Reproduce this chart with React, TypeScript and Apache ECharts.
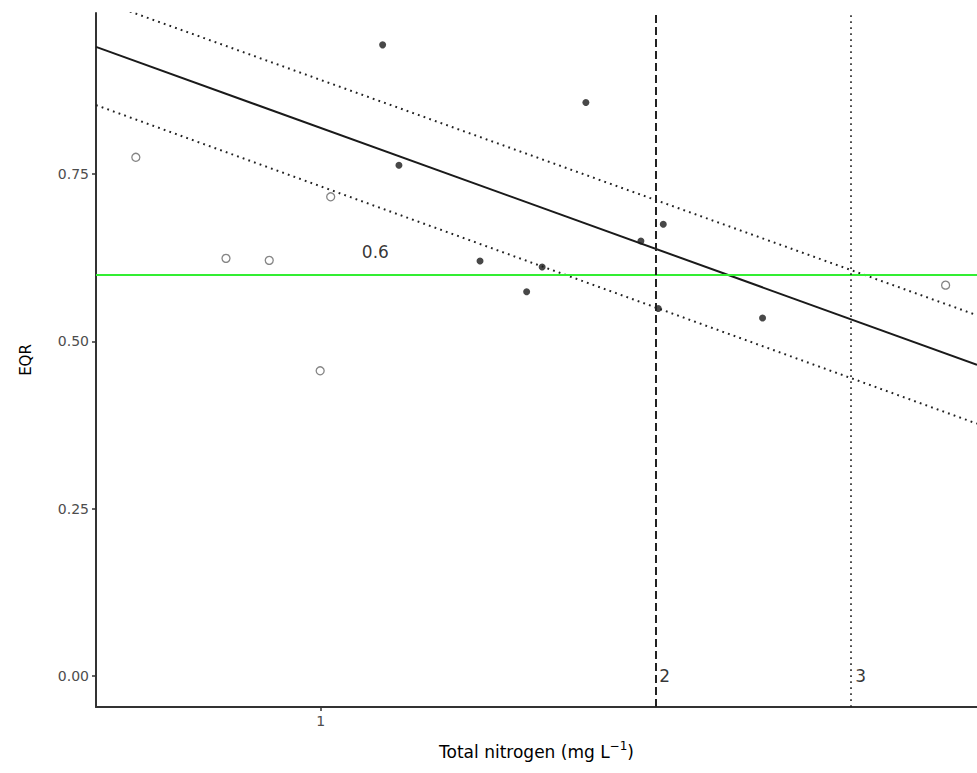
import React, { useEffect, useRef } from "react";
import * as echarts from "echarts";

// Observations: open circles (reference sites) and filled dots
const openX = [0.682, 0.822, 0.899, 1.021, 0.999, 3.648];
const openY = [0.775, 0.624, 0.621, 0.716, 0.456, 0.584];
const filledX = [1.137, 1.176, 1.732, 1.391, 1.532, 1.582, 1.941, 2.033, 2.012, 2.497];
const filledY = [0.943, 0.763, 0.857, 0.620, 0.574, 0.611, 0.650, 0.675, 0.549, 0.535];

// Regression fit and interval (end points at the x-range limits)
const lineX = [0.628, 3.893];
const fitY = [0.940, 0.465];
const upperY = [1.011, 0.539];
const lowerY = [0.853, 0.377];

// Reference levels
const eqrThreshold = 0.6;
const boundary2 = 2;
const boundary3 = 3;

// Axis settings
const xMin = 0.628;
const xMax = 3.893;
const yMin = -0.0463;
const yMax = 0.9906;
const xTicks = [1];
const yTicks = [0, 0.25, 0.5, 0.75];

// Annotations
const annotations = [
  { text: "0.6", x: 1.12, y: 0.633, pos: "inside" },
  { text: "2", x: 2, y: 0, pos: "right" },
  { text: "3", x: 3, y: 0, pos: "right" },
];

const FONT = "DejaVu Sans";

export default function App() {
  const ref = useRef<HTMLDivElement>(null);
  useEffect(() => {
    if (!ref.current) return;
    const chart = echarts.init(ref.current, null, { renderer: "svg" });
    const zip = (xs: number[], ys: number[]) => xs.map((x, i) => [x, ys[i]]);
    const dotted = [1.8, 4.2];
    const option: any = {
      animation: false,
      backgroundColor: "#ffffff",
      grid: { left: 96, right: 0, top: 13, bottom: 66, containLabel: false },
      xAxis: {
        type: "log",
        logBase: 10,
        min: xMin,
        max: xMax,
        name: "Total nitrogen (mg L{sup|\u22121})",
        nameLocation: "middle",
        nameGap: 33,
        nameTextStyle: {
          fontFamily: FONT,
          fontSize: 17,
          color: "#000",
          rich: {
            sup: { fontFamily: FONT, fontSize: 12, color: "#000", padding: [0, 0, 12, 0] },
          },
        },
        axisLine: { show: true, onZero: false, lineStyle: { color: "#333", width: 2 } },
        axisTick: { show: true, length: 4, customValues: xTicks, lineStyle: { color: "#333", width: 1.5 } },
        axisLabel: {
          customValues: xTicks,
          margin: 7,
          fontFamily: FONT,
          fontSize: 14,
          color: "#4d4d4d",
          formatter: (v: number) => String(Math.round(v)),
        },
        splitLine: { show: false },
        minorTick: { show: false },
      },
      yAxis: {
        type: "value",
        min: yMin,
        max: yMax,
        name: "EQR",
        nameLocation: "middle",
        nameRotate: 90,
        nameGap: 63,
        nameTextStyle: { fontFamily: FONT, fontSize: 15, color: "#000" },
        axisLine: { show: true, onZero: false, lineStyle: { color: "#333", width: 2 } },
        axisTick: { show: true, length: 4, customValues: yTicks, lineStyle: { color: "#333", width: 1.5 } },
        axisLabel: {
          customValues: yTicks,
          margin: 7,
          fontFamily: FONT,
          fontSize: 14,
          color: "#4d4d4d",
          formatter: (v: number) => v.toFixed(2),
        },
        splitLine: { show: false },
      },
      series: [
        {
          type: "line",
          data: zip(lineX, fitY),
          symbol: "none",
          lineStyle: { color: "#1a1a1a", width: 2 },
          clip: true,
          z: 3,
          markLine: {
            silent: true,
            symbol: ["none", "none"],
            label: { show: false },
            data: [
              { yAxis: eqrThreshold, lineStyle: { color: "#33ee33", width: 2, type: "solid" } },
              { xAxis: boundary2, lineStyle: { color: "#222", width: 2, type: [8, 4] } },
              { xAxis: boundary3, lineStyle: { color: "#222", width: 1.6, type: dotted } },
            ],
          },
        },
        {
          type: "line",
          data: zip(lineX, upperY),
          symbol: "none",
          lineStyle: { color: "#222", width: 2, type: dotted },
          clip: true,
          z: 3,
        },
        {
          type: "line",
          data: zip(lineX, lowerY),
          symbol: "none",
          lineStyle: { color: "#222", width: 2, type: dotted },
          clip: true,
          z: 3,
        },
        {
          type: "scatter",
          data: zip(openX, openY),
          symbol: "circle",
          symbolSize: 8,
          itemStyle: { color: "rgba(255,255,255,0)", borderColor: "#666", borderWidth: 1.3 },
          z: 4,
        },
        {
          type: "scatter",
          data: zip(filledX, filledY),
          symbol: "circle",
          symbolSize: 7,
          itemStyle: { color: "#1a1a1a" },
          z: 4,
        },
        {
          type: "scatter",
          data: annotations.map((a) => ({
            value: [a.x, a.y],
            name: a.text,
            label: { position: a.pos, distance: 4 },
          })),
          symbolSize: 0,
          silent: true,
          label: {
            show: true,
            formatter: (p: any) => p.name,
            fontFamily: FONT,
            fontSize: 17,
            color: "#000",
          },
          z: 5,
        },
      ],
    };
    chart.setOption(option);
    return () => chart.dispose();
  }, []);
  return (
    <div
      ref={ref}
      style={{ position: "fixed", left: 0, top: 0, width: 977, height: 773, background: "#fff" }}
    />
  );
}
